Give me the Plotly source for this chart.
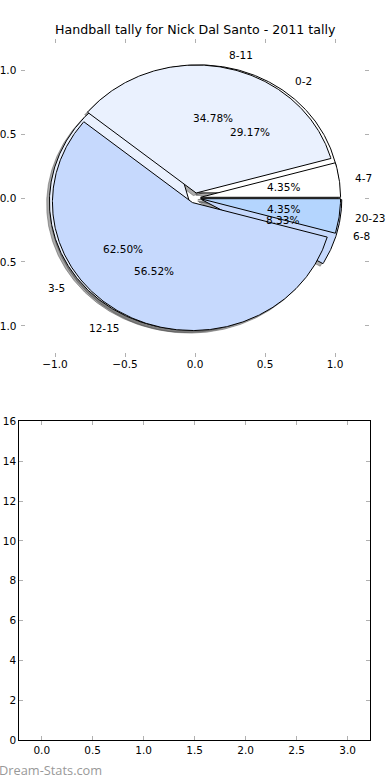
import numpy as np
import plotly.graph_objects as go

# ---- data ----
title_text = "Handball tally for Nick Dal Santo - 2011 tally"
labels_a = ["4-7", "8-11", "12-15", "20-23"]
values_a = [1, 8, 13, 1]
labels_b = ["0-2", "3-5", "6-8"]
values_b = [7, 15, 2]
palette = ["#ffffff", "#eaf1fe", "#c6d9fd", "#b4d5fe"]
explode_a = 0.04
explode_b = 0.05
bar_x_ticks = [0.0, 0.5, 1.0, 1.5, 2.0, 2.5, 3.0]
bar_y_ticks = [0, 2, 4, 6, 8, 10, 12, 14, 16]

W, H = 390, 780
FONT = "DejaVu Sans"

fig = go.Figure()


def wedges(values, explode):
    total = float(sum(values))
    out = []
    start = 0.0
    for v in values:
        frac = v / total
        t1, t2 = start, start + 360.0 * frac
        mid = np.radians((t1 + t2) / 2)
        cx, cy = explode * np.cos(mid), explode * np.sin(mid)
        th = np.radians(np.linspace(t1, t2, max(int(abs(t2 - t1)) * 2, 8)))
        xs = np.concatenate([[cx], cx + np.cos(th), [cx]])
        ys = np.concatenate([[cy], cy + np.sin(th), [cy]])
        out.append((xs, ys, mid, frac, cx, cy))
        start = t2
    return out


wa = wedges(values_a, explode_a)
wb = wedges(values_b, explode_b)

# shadows (below all wedges)
for ws in (wb, wa):
    for i, (xs, ys, mid, frac, cx, cy) in enumerate(ws):
        fig.add_trace(go.Scatter(x=xs - 0.02, y=ys - 0.02, mode="lines", fill="toself",
                                 fillcolor="rgba(70,70,70,0.45)", line=dict(color="rgba(70,70,70,0.45)", width=1),
                                 hoverinfo="skip", showlegend=False, xaxis="x", yaxis="y"))

# wedges: pie B first, then pie A on top
for ws in (wb, wa):
    for i, (xs, ys, mid, frac, cx, cy) in enumerate(ws):
        fig.add_trace(go.Scatter(x=xs, y=ys, mode="lines", fill="toself",
                                 fillcolor=palette[i % len(palette)], line=dict(color="black", width=1),
                                 hoverinfo="skip", showlegend=False, xaxis="x", yaxis="y"))

# labels and percentages
for ws, labs in ((wb, labels_b), (wa, labels_a)):
    for (xs, ys, mid, frac, cx, cy), lab in zip(ws, labs):
        lx = cx + 1.1 * np.cos(mid)
        ly = cy + 1.1 * np.sin(mid)
        fig.add_annotation(x=lx, y=ly, xref="x", yref="y", text=lab, showarrow=False,
                           xanchor="left" if lx > 0 else "right", yanchor="middle",
                           font=dict(family=FONT, size=10.5, color="black"))
        px = cx + 0.6 * np.cos(mid)
        py = cy + 0.6 * np.sin(mid)
        fig.add_annotation(x=px, y=py, xref="x", yref="y", text="%.2f%%" % (frac * 100), showarrow=False,
                           xanchor="center", yanchor="middle",
                           font=dict(family=FONT, size=10.5, color="black"))

# empty bottom axes placeholder trace
fig.add_trace(go.Scatter(x=[None], y=[None], mode="markers", showlegend=False, xaxis="x2", yaxis="y2"))

tick_common = dict(ticks="inside", ticklen=4, tickcolor="#b0b0b0", tickwidth=1,
                   showgrid=False, zeroline=False,
                   tickfont=dict(family=FONT, size=10.5, color="black"), automargin=False)

fig.update_layout(
    width=W, height=H, autosize=False,
    margin=dict(l=0, r=0, t=0, b=0),
    paper_bgcolor="white", plot_bgcolor="white",
    font=dict(family=FONT, color="black"),
    xaxis=dict(domain=[21.4 / W, 368.6 / W], range=[-1.24, 1.24], tickvals=[-1.0, -0.5, 0.0, 0.5, 1.0],
               tickformat=".1f", showline=False, mirror="ticks", anchor="y", **tick_common),
    yaxis=dict(domain=[1 - 356.7 / H, 1 - 39.3 / H], range=[-1.24, 1.24], tickvals=[-1.0, -0.5, 0.0, 0.5, 1.0],
               tickformat=".1f", showline=False, mirror="ticks", anchor="x", ticklabelstandoff=4, **tick_common),
    xaxis2=dict(domain=[19.3 / W, 370 / W], range=[-0.22, 3.22], tickvals=bar_x_ticks, tickformat=".1f",
                showline=True, linecolor="black", linewidth=1, mirror="ticks", anchor="y2", **tick_common),
    yaxis2=dict(domain=[1 - 740.3 / H, 1 - 421.3 / H], range=[0, 16], tickvals=bar_y_ticks,
                showline=True, linecolor="black", linewidth=1, mirror="ticks", anchor="x2", **tick_common),
    annotations=list(fig.layout.annotations) + [
        dict(text=title_text, x=0.5, y=1 - 29.5 / H, xref="paper", yref="paper", showarrow=False,
             xanchor="center", yanchor="middle", font=dict(family=FONT, size=12.6, color="black")),
        dict(text="Dream-Stats.com", x=-3 / W, y=1 - 770 / H, xref="paper", yref="paper", showarrow=False,
             xanchor="left", yanchor="middle", font=dict(family="Open Sans", size=12.8, color="#999999")),
    ],
)

fig.write_html("out.html", config={"displayModeBar": False},
               post_script="document.body.style.margin='0';document.body.style.overflow='hidden';")
